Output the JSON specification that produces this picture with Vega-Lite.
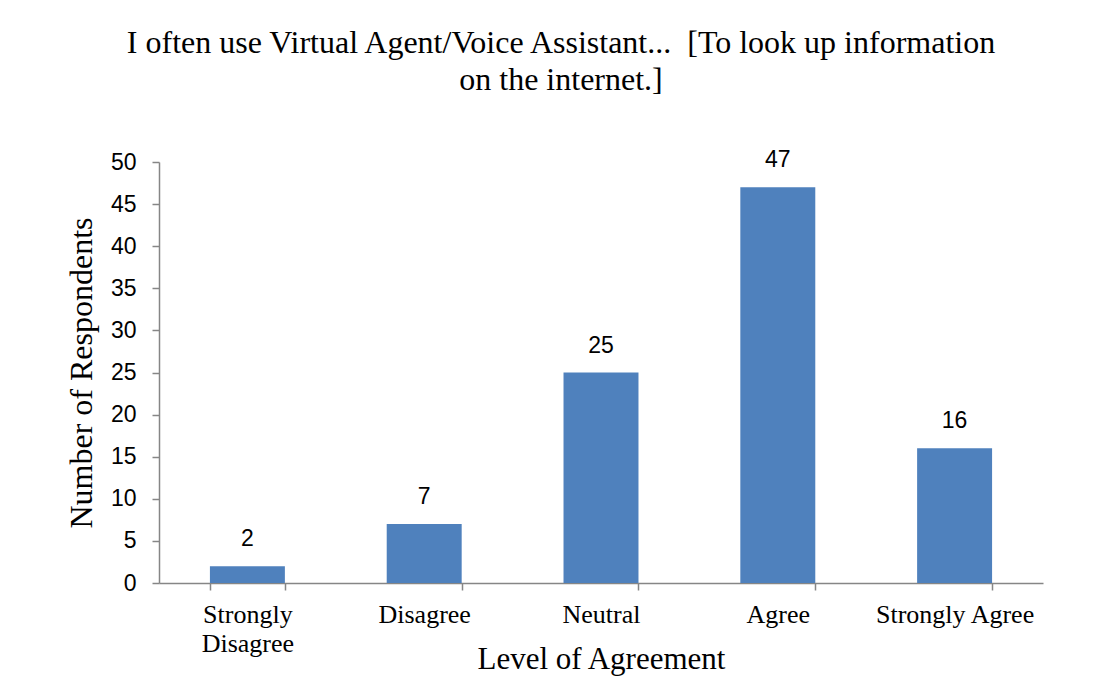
{
  "$schema": "https://vega.github.io/schema/vega-lite/v6.json",
  "autosize": "none",
  "width": 884,
  "height": 421,
  "padding": {"left": 159, "top": 162, "right": 69, "bottom": 93},
  "background": "white",
  "title": {
    "text": ["I often use Virtual Agent/Voice Assistant... \u00a0[To look up information", "on the internet.]"],
    "font": "Liberation Serif",
    "fontSize": 32,
    "fontWeight": "normal",
    "color": "black",
    "lineHeight": 37,
    "anchor": "middle",
    "dx": -40,
    "offset": 52
  },
  "data": {
    "values": [
      {"level": "Strongly Disagree", "count": 2},
      {"level": "Disagree", "count": 7},
      {"level": "Neutral", "count": 25},
      {"level": "Agree", "count": 47},
      {"level": "Strongly Agree", "count": 16}
    ]
  },
  "encoding": {
    "x": {
      "field": "level",
      "type": "nominal",
      "sort": null,
      "scale": {"paddingInner": 0.576, "paddingOuter": 0.288},
      "axis": {
        "title": "Level of Agreement",
        "titleFont": "Liberation Serif",
        "titleFontSize": 31,
        "titleFontWeight": "normal",
        "titleColor": "black",
        "titlePadding": -12,
        "labelFont": "Liberation Serif",
        "labelFontSize": 26,
        "labelColor": "black",
        "labelAngle": 0,
        "labelPadding": 11,
        "labelLineHeight": 29,
        "labelExpr": "datum.value == 'Strongly Disagree' ? ['Strongly', 'Disagree'] : datum.value",
        "tickBand": "extent",
        "tickSize": 7,
        "tickColor": "#868686",
        "domainColor": "#868686",
        "domainWidth": 1.5,
        "tickWidth": 1.5
      }
    },
    "y": {
      "field": "count",
      "type": "quantitative",
      "scale": {"domain": [0, 50]},
      "axis": {
        "title": "Number of Respondents",
        "titleFont": "Liberation Serif",
        "titleFontSize": 32,
        "titleFontWeight": "normal",
        "titleColor": "black",
        "titlePadding": 12,
        "values": [0, 5, 10, 15, 20, 25, 30, 35, 40, 45, 50],
        "labelFont": "Liberation Sans",
        "labelFontSize": 23,
        "labelColor": "black",
        "labelPadding": 16,
        "tickSize": 7,
        "tickColor": "#868686",
        "domainColor": "#868686",
        "domainWidth": 1.5,
        "tickWidth": 1.5,
        "grid": false
      }
    }
  },
  "layer": [
    {"mark": {"type": "bar", "color": "#4F81BD"}},
    {
      "mark": {"type": "text", "dy": -27, "font": "Liberation Sans", "fontSize": 23, "color": "black"},
      "encoding": {"text": {"field": "count", "type": "quantitative"}}
    }
  ],
  "config": {"view": {"stroke": null}}
}
